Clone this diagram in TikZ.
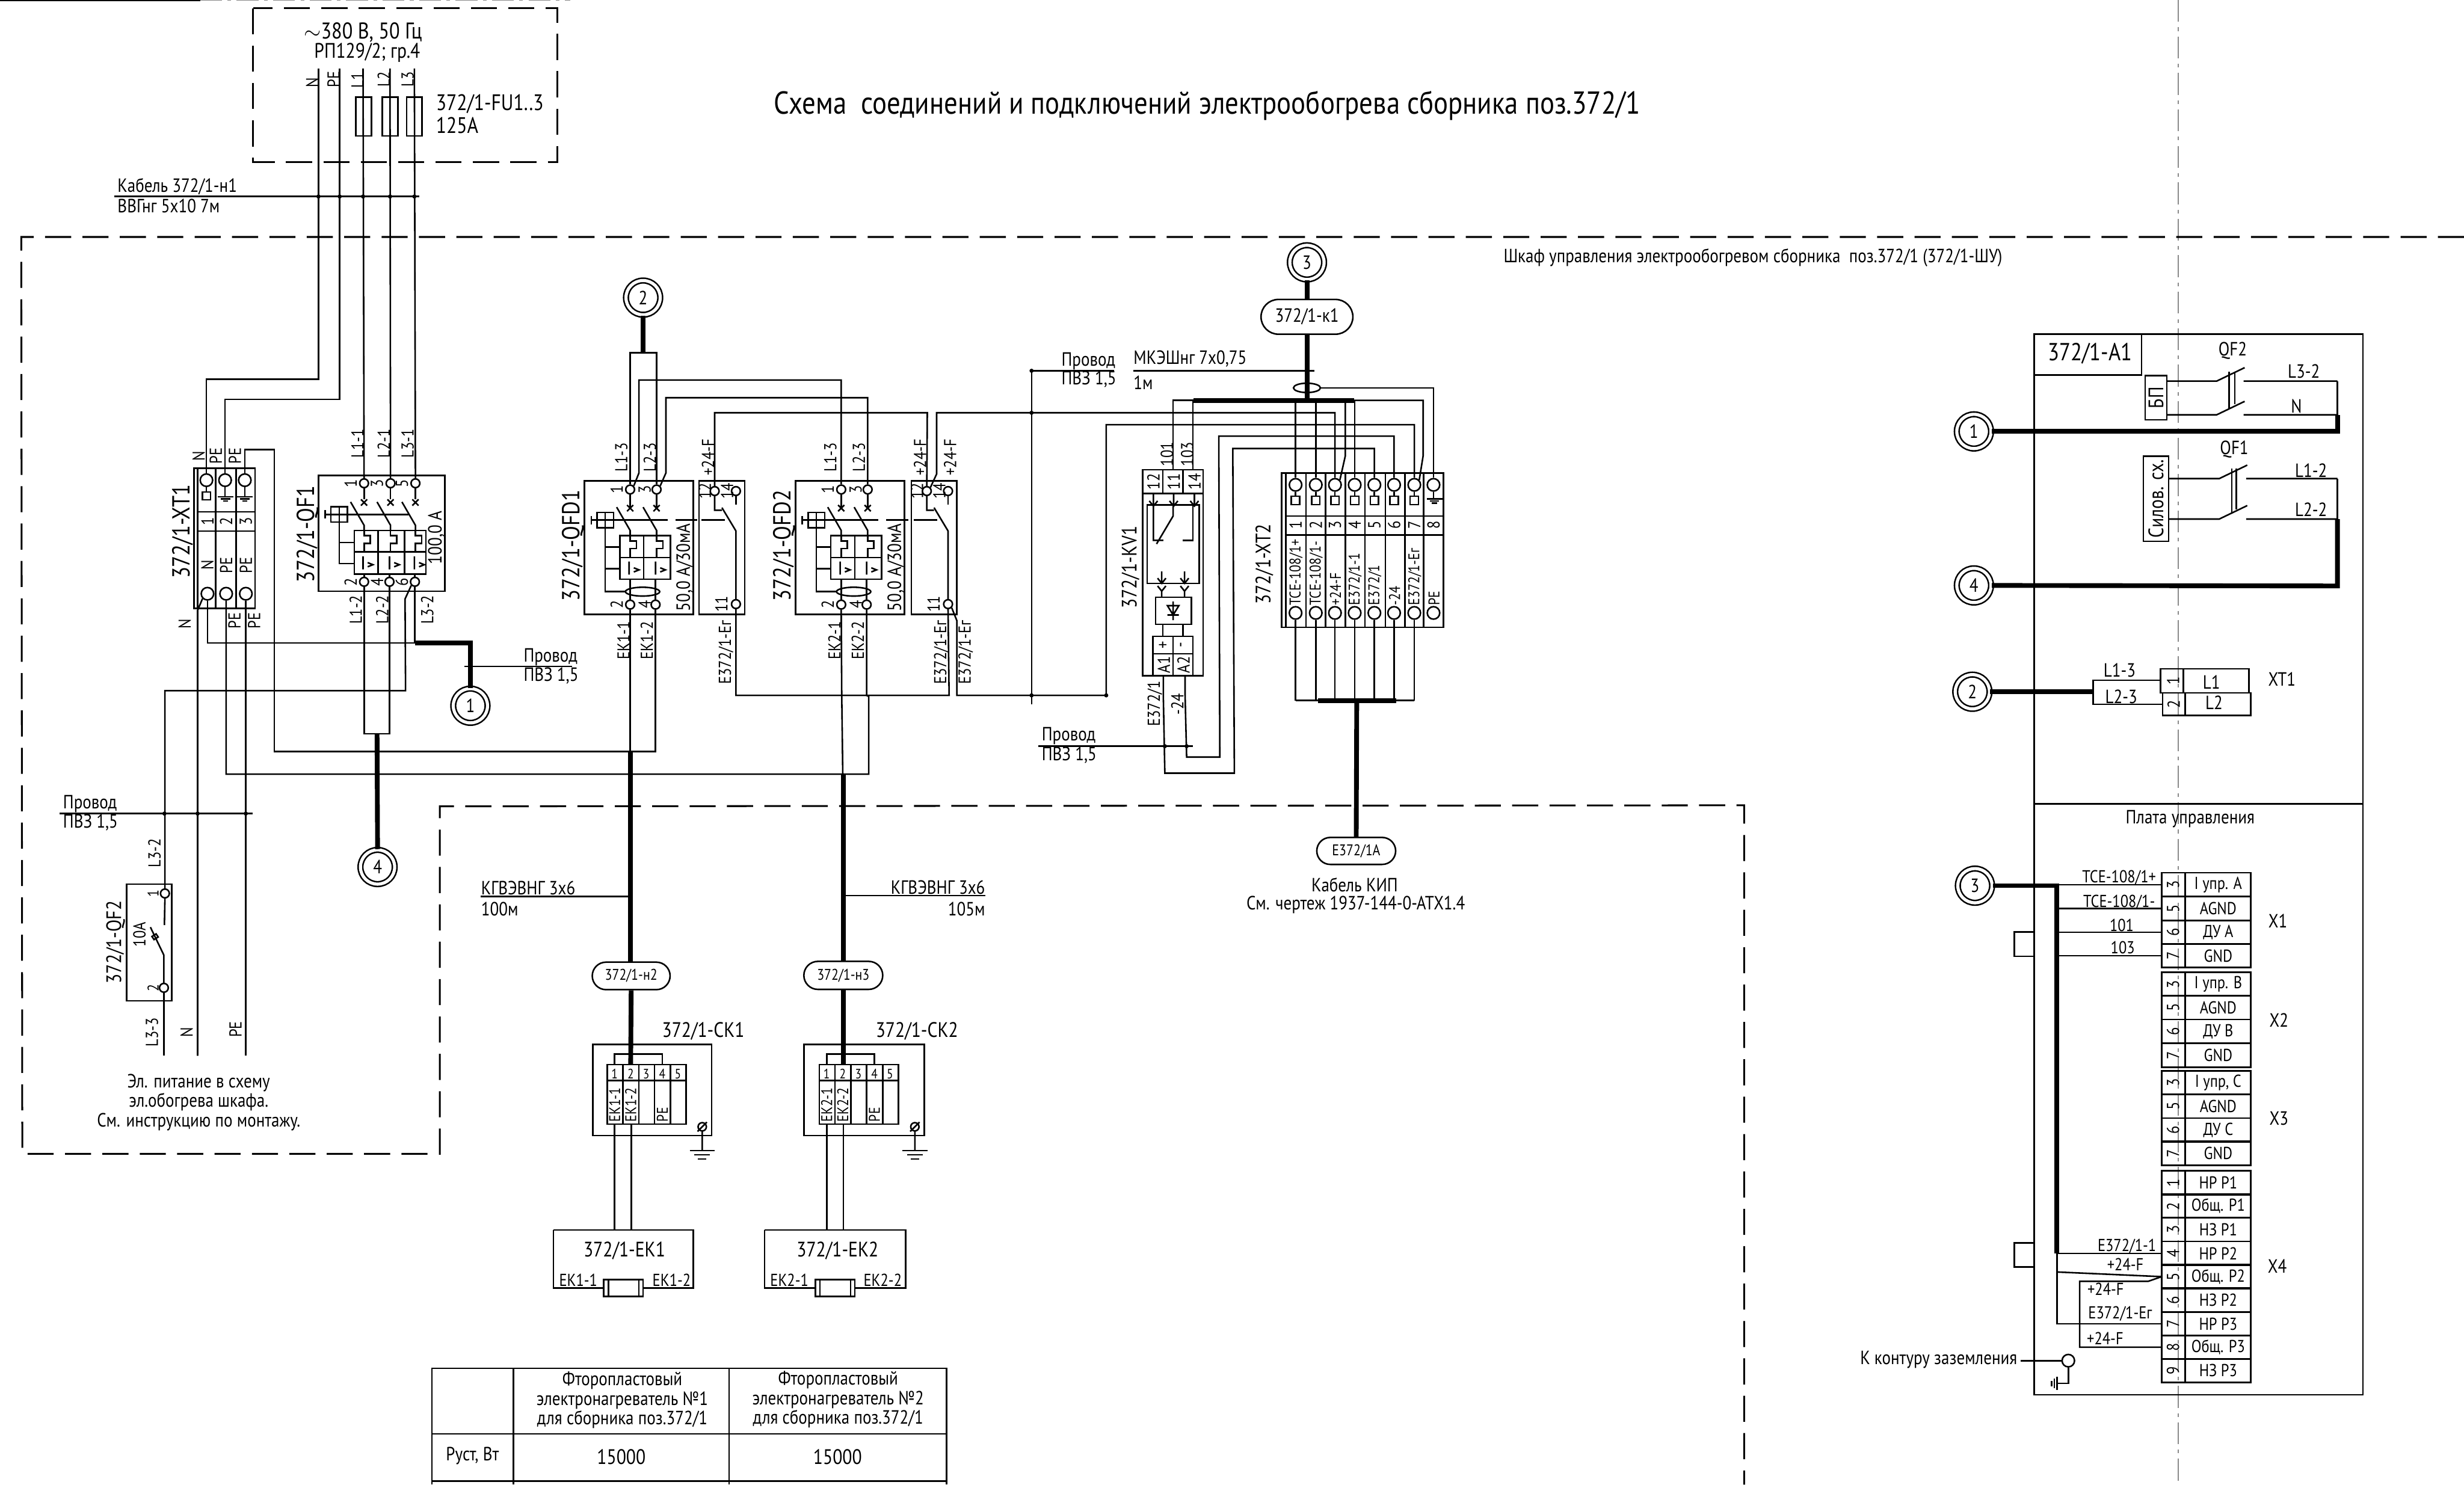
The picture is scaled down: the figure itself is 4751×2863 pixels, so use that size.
\documentclass[tikz,border=0pt]{standalone}
\usepackage{fontspec}
\setmainfont[FakeStretch=0.85]{PT Sans}
\usetikzlibrary{shapes.misc}
\definecolor{ink}{HTML}{000000}
\definecolor{faint}{HTML}{8A8A8A}
\tikzset{
  wire/.style={draw=ink, line width=0.85pt, line join=miter},
  bus/.style={draw=ink, line width=2.6pt},
  box/.style={draw=ink, line width=0.85pt},
  dsh/.style={draw=ink, line width=1pt, dash pattern=on 14.3pt off 6.2pt},
  fold/.style={draw=faint, line width=0.4pt, dash pattern=on 12pt off 3pt on 2pt off 3pt},
  term/.style={circle, draw=ink, fill=white, line width=0.85pt, inner sep=0pt, minimum size=0.17cm},
  termb/.style={term, minimum size=0.24cm},
  refc/.style={circle, draw=ink, fill=white, double, double distance=1.7pt, line width=0.85pt, inner sep=0pt, minimum size=0.66cm, text=ink, font=\fontsize{10.5}{11}\selectfont},
  cable/.style={rounded rectangle, draw=ink, fill=white, line width=0.85pt, inner sep=0pt},
  rot/.style={rotate=90},
  labs/.style={inner sep=0pt, text=ink, font=\fontsize{8.5}{9}\selectfont},
  lab/.style={inner sep=0pt, text=ink, font=\fontsize{9.5}{10}\selectfont},
  labm/.style={inner sep=0pt, text=ink, font=\fontsize{10.5}{10.7}\selectfont},
  labl/.style={inner sep=0pt, text=ink, font=\fontsize{11.5}{11.5}\selectfont},
  labb/.style={inner sep=0pt, text=ink, font=\fontsize{13.5}{14}\selectfont},
}
% small marks that repeat
\newcommand{\tk}[2]{\fill[ink] (#1,#2) circle (4);}
\newcommand{\crs}[2]{\draw[wire] (#1-6,#2-6) -- (#1+6,#2+6) (#1-6,#2+6) -- (#1+6,#2-6);}
\newcommand{\blade}[2]{\draw[wire] (#1-26,#2) -- (#1,#2+45) -- (#1,#2+55);}
\newcommand{\pole}[2]{
  \draw[wire] (#1,#2) -- (#1,#2+10) -- (#1+12,#2+10) -- (#1+12,#2+25) -- (#1,#2+25) -- (#1,#2+41);
  \draw[wire] (#1-2,#2+50) -- (#1-2,#2+75) (#1+7,#2+62) -- (#1+17,#2+66) -- (#1+7,#2+70);}
\newcommand{\lever}[2]{
  \draw[box] (#1-16,#2-15) rectangle (#1+16,#2+15);
  \draw[wire] (#1,#2-15) -- (#1,#2+15) (#1-27,#2-8) -- (#1-27,#2+8);}
\newcommand{\gndbars}[2]{
  \draw[wire] (#1-15,#2) -- (#1+15,#2) (#1-9,#2+4) -- (#1+9,#2+4) (#1-5,#2+8) -- (#1+5,#2+8);}
\newcommand{\gndck}[1]{
  \draw[wire] (#1,2173) circle (8) (#1-9,2182) -- (#1+9,2164) (#1,2181) -- (#1,2219);
  \draw[wire] (#1-24,2219) -- (#1+24,2219) (#1-15,2227) -- (#1+15,2227) (#1-8,2235) -- (#1+8,2235);}

\begin{document}
\begin{tikzpicture}[x=0.01cm,y=-0.01cm]
  \useasboundingbox (0,0) rectangle (4751,2863);
  \draw[line width=0.9pt] (0,1) -- (386,1);
  \draw[fold] (386,1) -- (1100,1);
  \draw[fold] (4200,0) -- (4200,2863);

  % titles
  \node[labb,font=\fontsize{17.4}{18}\selectfont] (title) at (2328,204) {Схема\ \ соединений и подключений электрообогрева сборника поз.372/1};
  \node[labm] (titleb) at (3380,497) {Шкаф управления электрообогревом сборника\ \ поз.372/1 (372/1-ШУ)};

  % frames
  \draw[dsh] (488,16) rectangle (1075,313);
  \draw[dsh] (4751,457) -- (41,457) -- (43,2225) -- (848,2225) -- (848,1555) -- (3363,1553) -- (3363,2863);

  % source
  \coordinate (srcN) at (614,132);
  \coordinate (srcPE) at (655,132);
  \coordinate (srcL1) at (700,132);
  \coordinate (srcL2) at (752,132);
  \coordinate (srcL3) at (799,132);
  \foreach \x in {686,737,784} \draw[box] (\x,187) rectangle (\x+30,262);
  \node[labl,font=\fontsize{12.5}{13}\selectfont] (src1) at (700,62) {$\sim$380 В, 50 Гц};
  \node[labl] (src2) at (708,102) {РП129/2; гр.4};
  \node[labl,font=\fontsize{12.3}{13}\selectfont,anchor=west] (fu1) at (840,201) {372/1-FU1..3};
  \node[labl,font=\fontsize{12.3}{13}\selectfont,anchor=west] (fu2) at (840,242) {125А};
  \draw[wire] (220,379) -- (809,379);
  \node[labm,anchor=west] (cb1) at (226,360) {Кабель 372/1-н1};
  \node[labm,anchor=west] (cb2) at (226,397) {ВВГнг 5х10 7м};

  % XT1
  \draw[box] (374,903) rectangle (492,1173);
  \draw[box] (381,903) -- (381,1173) (416,903) -- (416,1173) (455,903) -- (455,1173);
  \draw[box] (381,987) -- (492,987) (381,1024) -- (492,1024);
  \foreach \i/\xa/\xb/\txt in {1/398/400/N,2/434/436/PE,3/472/474/PE} {
    \node[termb] (xa\i) at (\xa,926) {};
    \node[termb] (xb\i) at (\xb,1145) {};
    \node[lab,rot] (xn\i) at (\xb,1005) {\i};
    \node[lab,rot] (xl\i) at (\xb,1090) {\txt};
  }
  \draw[box] (390,949) rectangle (406,964);
  \draw[wire] (xa1.south) -- (398,949) (xa2.south) -- (434,958) (xa3.south) -- (472,958);
  \gndbars{435}{958}
  \gndbars{472}{958}
  \node[labb,rot] (xt1) at (352,1025) {372/1-XT1};

  % QF1
  \draw[box] (614,917) rectangle (858,1140);
  \foreach \i/\xa/\xb/\nt/\nb in {1/702/702/1/2,2/753/751/3/4,3/801/800/5/6} {
    \node[term] (qa\i) at (\xa,932) {};
    \node[term] (qb\i) at (\xb,1122) {};
    \node[lab,rot] (qnt\i) at (\xa-26,932) {\nt};
    \node[lab,rot] (qnb\i) at (\xa-26,1122) {\nb};
    \draw[wire] (qa\i.south) -- (\xa,963);
    \crs{\xa}{969}
    \blade{\xa}{968}
    \pole{\xa}{1023}
  }
  \draw[box] (683,1023) rectangle (821,1107);
  \draw[box] (683,1064) -- (821,1064) (729,1023) -- (729,1107) (780,1023) -- (780,1107);
  \lever{654}{992}
  \draw[wire] (627,992) -- (788,992);
  \draw[wire] (654,1007) -- (654,1087) -- (683,1087) (654,1046) -- (683,1046);
  \draw[wire] (702,1107) -- (qb1.north) (751,1107) -- (qb2.north) (800,1107) -- (qb3.north);
  \node[labb,rot] (qf1) at (593,1030) {372/1-QF1};
  \node[labm,rot] (qf1v) at (841,1037) {100,0 А};

  % QF2
  \draw[box] (244,1705) rectangle (331,1930);
  \node[term] (qt) at (318,1723) {};
  \node[term] (qd) at (316,1905) {};
  \draw[wire] (qt.south) -- (317,1784);
  \draw[wire] (qd.north) -- (316,1842) -- (290,1788);
  \draw[wire] (293,1806) -- (301,1801) -- (305,1807) -- (297,1812) -- cycle;
  \node[labs,rot] (qtn) at (295,1723) {1};
  \node[labs,rot] (qdn) at (295,1905) {2};
  \node[labl,rot] (qf2) at (223,1817) {372/1-QF2};
  \node[lab,rot] (qf2v) at (269,1802) {10А};

  % feed wires
  \draw[wire] (srcN) -- (614,731) -| (xa1.north);
  \draw[wire] (srcPE) -- (655,770) -| (xa2.north);
  \draw[wire] (srcL1) -- (qa1.north);
  \draw[wire] (srcL2) -- (qa2.north);
  \draw[wire] (srcL3) -- (qa3.north);
  \draw[wire] (xb1.south west) -- (381,1177) -- (381,2036);
  \draw[wire] (xb3.south) -- (474,2036);
  \draw[wire] (qb1.south) -- (702,1415) -- (751,1415) -- (qb2.south);
  \draw[wire] (qb3.south west) -- (781,1155) -- (782,1332) -| (qt.north);
  \draw[wire] (qd.south) -- (316,2036);
  \draw[wire] (xb1.south) |- (800,1240);
  \draw[wire] (qb3.south) -- (800,1240);
  \node[refc] (c1) at (907,1361) {1};
  \node[refc] (c4) at (728,1672) {4};
  \draw[bus] (800,1240) -- (907,1240) -- (c1.north);
  \draw[bus] (727,1415) -- (c4.north);
  \draw[wire] (895,1285) -- (1103,1285);
  \node[labm,anchor=west] (pv1a) at (1009,1267) {Провод};
  \node[labm,anchor=west] (pv1b) at (1009,1303) {ПВЗ 1,5};
  \draw[wire] (115,1569) -- (487,1569);
  \node[labm,anchor=west] (pv2a) at (121,1550) {Провод};
  \node[labm,anchor=west] (pv2b) at (121,1586) {ПВЗ 1,5};
  \node[labm,align=center] (note) at (383,2126) {Эл. питание в схему\\эл.обогрева шкафа.\\См. инструкцию по монтажу.};

  % rotated wire labels
  \foreach \x/\y/\txt [count=\i] in {602/159/N,643/153/PE,689/155/L1,740/153/L2,786/153/L3,
    689/855/L1-1,740/855/L2-1,786/855/L3-1,383/880/N,416/879/PE,453/879/PE,
    356/1203/N,452/1197/PE,490/1197/PE,686/1176/L1-2,737/1176/L2-2,824/1176/L3-2,
    298/1645/L3-2,293/1991/L3-3,360/1991/N,454/1985/PE,
    1198/882/L1-3,1253/882/L2-3,1365/882/+24-F,1601/882/L1-3,1656/882/L2-3,1774/882/+24-F,1832/882/+24-F,
    1202/1235/EK1-1,1247/1235/EK1-2,1400/1258/{E372/1-Eг},1609/1235/EK2-1,1654/1235/EK2-2,1815/1258/{E372/1-Eг},1862/1258/{E372/1-Eг},
    2250/876/101,2289/876/103,2227/1357/{E372/1},2270/1358/-24}
    \node[lab,rot] (wl\i) at (\x,\y) {\txt};

  % QFD1, QFD2
  \foreach \nm/\xo/\xt in {QFD1/1127/{372/1-QFD1},QFD2/1534/{372/1-QFD2}} {
    \begin{scope}[shift={(\xo,927)}]
      \draw[box] (0,0) rectangle (210,258);
      \node[term] (\nm-t1) at (88,17) {};
      \node[term] (\nm-t2) at (139,17) {};
      \node[term] (\nm-b1) at (88,239) {};
      \node[term] (\nm-b2) at (137,239) {};
      \draw[wire] (\nm-t1.south) -- (88,53) (\nm-t2.south) -- (139,53);
      \crs{88}{53}
      \crs{139}{53}
      \blade{88}{51}
      \blade{139}{51}
      \draw[box] (68,106) rectangle (166,190);
      \draw[box] (68,148) -- (166,148) (114,106) -- (114,190);
      \pole{88}{106}
      \pole{139}{106}
      \lever{40}{76}
      \draw[wire] (12,76) -- (160,76) (175,76) -- (217,76);
      \draw[wire] (40,91) -- (40,214) -- (79,214) (40,128) -- (68,128) (40,170) -- (68,170);
      \draw[wire] (112,214) ellipse (33 and 8.5);
      \draw[wire] (88,190) -- (\nm-b1.north) (137,190) -- (\nm-b2.north);
      \node[lab,rot] (\nm-n1) at (62,17) {1};
      \node[lab,rot] (\nm-n3) at (116,17) {3};
      \node[lab,rot] (\nm-n2) at (62,239) {2};
      \node[lab,rot] (\nm-n4) at (116,239) {4};
      \node[labm,rot] (\nm-v) at (193,167) {50,0 А/30мА};
      \node[labb,rot] (\nm-t) at (-22,125) {\xt};
    \end{scope}
  }
  % contact blocks beside them
  \foreach \nm/\xo in {A1/1348,A2/1757} {
    \begin{scope}[shift={(\xo,927)}]
      \draw[box] (0,0) rectangle (88,258);
      \node[term] (\nm-t12) at (30,20) {};
      \node[term] (\nm-t14) at (71,20) {};
      \node[term] (\nm-t11) at (71,238) {};
      \draw[wire] (\nm-t12.south) -- (30,57) -- (44,57) (44,52) -- (71,97) -- (\nm-t11.north);
      \draw[wire] (\nm-t14.south) -- (71,46) (5,76) -- (50,76);
      \node[lab,rot] (\nm-n12) at (11,20) {12};
      \node[lab,rot] (\nm-n14) at (54,20) {14};
      \node[lab,rot] (\nm-n11) at (43,238) {11};
    \end{scope}
  }
  \node[refc] (c2) at (1240,574) {2};
  \draw[bus] (c2.south) -- (1240,680);
  \draw[wire] (QFD1-t1.north) |- (1240,680) -| (QFD1-t2.north);
  \draw[wire] (QFD2-t1.north) |- (1232,733) -- (1232,912) -- (QFD1-t1.north east);
  \draw[wire] (QFD2-t2.north) |- (1284,767) -- (1284,912) -- (QFD1-t2.north east);
  \draw[wire] (QFD1-b1.south) -- (1215,1449);
  \draw[wire] (QFD1-b2.south) |- (529,1449) -- (529,867) -| (xa3.north);
  \draw[wire] (QFD2-b1.south) -- (1623,1341) -- (1625,1493);
  \draw[wire] (QFD2-b2.south) -- (1671,1341) -- (1675,1343) |- (436,1493) -- (xb2.south);
  \draw[wire] (A1-t12.north) |- (1788,796) -- (A2-t12.north);
  \draw[wire] (A1-t11.south) |- (1830,1341) -- (A2-t11.south);

  % KV1
  \draw[box] (2203,906) rectangle (2320,1303);
  \draw[box] (2203,952) -- (2320,952) (2242,906) -- (2242,952) (2281,906) -- (2281,952);
  \draw[box] (2212,974) rectangle (2312,1125);
  \coordinate (kv11) at (2262,906);
  \coordinate (kv14) at (2300,906);
  \coordinate (kva1) at (2243,1303);
  \coordinate (kva2) at (2285,1303);
  \foreach \x/\txt [count=\i] in {2224/12,2263/11,2303/14} {
    \node[lab,rot] (kc\i) at (\x,929) {\txt};
    \draw[wire] (\x,952) -- (\x,976) (\x-8,966) -- (\x,976) -- (\x+8,966);
  }
  \draw[wire] (2224,976) -- (2224,1042) -- (2243,1042) (2262,976) -- (2262,995) -- (2230,1049);
  \draw[wire] (2300,976) -- (2300,1042) -- (2280,1042);
  \foreach \x in {2240,2284} {
    \draw[wire] (\x,1102) -- (\x,1125) (\x-8,1115) -- (\x,1125) -- (\x+8,1115);
    \draw[wire] (\x-8,1130) -- (\x,1140) -- (\x+8,1130) (\x,1140) -- (\x,1152);
  }
  \draw[box] (2228,1152) rectangle (2297,1204);
  \draw[wire] (2251,1168) -- (2273,1168) -- (2262,1186) -- cycle (2251,1186) -- (2273,1186) (2262,1160) -- (2262,1196);
  \draw[wire] (2242,1204) -- (2242,1227) (2281,1204) -- (2281,1227);
  \draw[box] (2223,1227) rectangle (2300,1303);
  \draw[box] (2223,1261) -- (2300,1261) (2262,1227) -- (2262,1303);
  \foreach \x/\y/\txt [count=\i] in {2244/1244/+,2281/1244/-,2244/1282/A1,2282/1282/A2}
    \node[lab,rot] (ka\i) at (\x,\y) {\txt};
  \node[labl,rot] (kv1) at (2180,1094) {372/1-KV1};

  % XT2
  \draw[box] (2471,912) rectangle (2783,1210);
  \draw[box] (2479,912) -- (2479,1210);
  \foreach \x in {2518,2556,2594,2632,2671,2709,2745} \draw[box] (\x,912) -- (\x,1210);
  \draw[box] (2479,995) -- (2783,995) (2479,1032) -- (2783,1032);
  \foreach \i/\x/\txt in {1/2498/{TCE-108/1+},2/2537/{TCE-108/1-},3/2574/+24-F,4/2612/{E372/1-1},
      5/2650/{E372/1},6/2688/-24,7/2727/{E372/1-Eг},8/2764/PE} {
    \node[termb] (T\i) at (\x,935) {};
    \node[termb] (B\i) at (\x,1182) {};
    \node[lab,rot] (Tn\i) at (\x,1012) {\i};
    \node[labs,rot,anchor=west] (Tl\i) at (\x+1,1168) {\txt};
  }
  \foreach \x [count=\i] in {2498,2537,2574,2612,2650,2688,2727} {
    \draw[box] (\x-8,957) rectangle (\x+8,973);
    \draw[wire] (T\i.south) -- (\x,957);
    \draw[wire] (B\i.south) -- (B\i.south |- 0,1351);
  }
  \draw[wire] (T8.south) -- (2764,962);
  \gndbars{2766}{962}
  \node[labl,rot] (xt2) at (2438,1088) {372/1-XT2};

  % cable 3
  \node[refc] (c3) at (2520,506) {3};
  \node[cable,labm,minimum width=1.77cm,minimum height=0.67cm] (k1) at (2520,611) {372/1-к1};
  \draw[bus] (c3.south) -- (k1.north);
  \draw[bus] (k1.south) -- (2520,772);
  \draw[wire] (2520,748) ellipse (26 and 9);
  \draw[bus] (2301,772) -- (2611,772);
  \draw[wire] (2611,772) -- (2744,772) -- (2744,879) -- (T7.north east);
  \draw[wire] (kv11) |- (2301,772);
  \draw[wire] (kv14) -- (2300,772);
  \draw[wire] (T1.north) |- (2520,772);
  \draw[wire] (T2.north) -- (2537,772);
  \draw[wire] (T4.north) -- (2612,772);
  \draw[wire] (T3.north east) -- (2594,879) -- (2594,772);
  \draw[wire] (T8.north) |- (2546,748);
  \draw[wire] (A2-t12.north east) -- (1806,914) -- (1806,796) -| (T3.north);
  \draw[wire] (A2-t11.south east) -- (1845,1197) -- (1845,1341) -- (2133,1341) -- (2133,819) -| (T7.north);
  \draw[wire] (2148,715) -- (1989,715) -- (1989,1358);
  \draw[wire] (1845,1341) -- (1989,1341);
  \draw[wire] (T6.north) |- (2350,841) -- (2352,1460) -- (2288,1460) -- (2285,1340) -- (kva2);
  \draw[wire] (T5.north) |- (2377,865) -- (2380,1491) -- (2246,1491) -- (2243,1340) -- (kva1);
  \draw[wire] (2185,715) -- (2534,715);
  \node[labm,anchor=west] (mk1) at (2185,692) {МКЭШнг 7х0,75};
  \node[labm,anchor=west] (mk2) at (2185,738) {1м};
  \node[labm,anchor=west] (pv3a) at (2046,696) {Провод};
  \node[labm,anchor=west] (pv3b) at (2046,731) {ПВЗ 1,5};
  \draw[wire] (2002,1439) -- (2300,1439);
  \node[labm,anchor=west] (pv4a) at (2008,1419) {Провод};
  \node[labm,anchor=west] (pv4b) at (2008,1456) {ПВЗ 1,5};
  \node[cable,labs,minimum width=1.52cm,minimum height=0.52cm] (kip) at (2615,1641) {E372/1A};
  \draw[wire] (2498,1351) -- (2727,1351);
  \draw[bus] (2541,1351) -- (2692,1351);
  \draw[bus] (2616,1351) -- (kip.north);
  \node[labm] (kip1) at (2612,1706) {Кабель КИП};
  \node[labm] (kip2) at (2614,1745) {См. чертеж 1937-144-0-АТХ1.4};

  % heater cables
  \draw[bus] (1216,1449) -- (1216,1855);
  \draw[bus] (1626,1493) -- (1626,1854);
  \node[cable,labs,minimum width=1.5cm,minimum height=0.53cm] (n2) at (1217,1882) {372/1-н2};
  \node[cable,labs,minimum width=1.52cm,minimum height=0.54cm] (n3) at (1626,1881) {372/1-н3};
  \draw[wire] (927,1729) -- (1216,1729);
  \draw[wire] (1626,1727) -- (1900,1727);
  \node[labm,anchor=west] (kg1) at (927,1713) {КГВЭВНГ 3х6};
  \node[labm,anchor=west] (kg2) at (927,1753) {100м};
  \node[labm,anchor=east] (kg3) at (1900,1711) {КГВЭВНГ 3х6};
  \node[labm,anchor=east] (kg4) at (1900,1753) {105м};

  % CK1, CK2 and heaters
  \foreach \nm/\xo/\wo/\xn/\xg/\xa/\xb/\xr/\exo/\ewo/\hh in {
      1/1143/229/1356/1354/1185/1217/1164/1067/270/1204,
      2/1550/232/1768/1764/1594/1626/1572/1474/272/1615} {
    \draw[box] (\xo,2014) rectangle (\xo+\wo,2190);
    \node[labl] (ck\nm) at (\xn,1989) {372/1-CK\nm};
    \draw[box] (\xa-14,2053) rectangle (\xa+138,2168);
    \draw[box] (\xa-14,2084) -- (\xa+138,2084);
    \foreach \d/\txt [count=\i] in {0/EK\nm-1,31/EK\nm-2,61/{},92/PE,122/{}} {
      \draw[box] (\xa+16+\d,2053) -- (\xa+16+\d,2168);
      \node[labs,font=\fontsize{7.5}{8}\selectfont] (cn\nm\i) at (\xa+\d,2071) {\i};
      \node[labs,rot,anchor=west] (ct\nm\i) at (\xa+\d,2164) {\txt};
    }
    \draw[wire] (\xa,2053) -- (\xa,2033) -- (\xa+92,2033) -- (\xa+92,2053);
    \gndck{\xg}
    \draw[wire] (\xa,2168) -- (\xa,2372) (\xb,2168) -- (\xb,2372);
    \draw[box] (\exo,2372) -- (\exo+\ewo,2372) -- (\exo+\ewo,2484) -- (\xr+76,2484);
    \draw[box] (\exo,2372) -- (\exo,2484) -- (\xr,2484);
    \draw[box] (\xr,2468) rectangle (\xr+76,2500);
    \draw[box] (\xr+9,2468) -- (\xr+9,2500) (\xr+68,2468) -- (\xr+68,2500);
    \node[labl] (ek\nm) at (\hh,2412) {372/1-EK\nm};
    \node[lab] (ekl\nm) at (\exo+48,2468) {EK\nm-1};
    \node[lab] (ekr\nm) at (\exo+228,2468) {EK\nm-2};
  }
  \draw[bus] (n2.south) -- (1216,2053);
  \draw[bus] (n3.south) -- (1626,2053);

  % table
  \draw[box] (833,2863) -- (833,2639) -- (1825,2639) -- (1825,2863);
  \draw[box] (990,2639) -- (990,2863) (1406,2639) -- (1406,2863);
  \draw[box] (833,2765) -- (1825,2765) (833,2856) -- (1825,2856);
  \node[labm,align=center] (th1) at (1200,2700) {Фторопластовый\\электронагреватель №1\\для сборника поз.372/1};
  \node[labm,align=center] (th2) at (1616,2699) {Фторопластовый\\электронагреватель №2\\для сборника поз.372/1};
  \node[labm] (tr0) at (911,2808) {Руст, Вт};
  \node[labl] (tr1) at (1198,2810) {15000};
  \node[labl] (tr2) at (1615,2810) {15000};

  % A1 panel
  \draw[box] (3922,644) rectangle (4556,2690);
  \draw[box] (3922,723) -- (4129,723) -- (4129,644);
  \draw[box] (3922,1550) -- (4556,1550);
  \node[labb] (a1) at (4030,682) {372/1-A1};
  \node[labm] (plata) at (4223,1579) {Плата управления};
  \node[refc] (r1) at (3806,832) {1};
  \node[refc] (r4) at (3806,1129) {4};
  \node[refc] (r2) at (3803,1334) {2};
  \node[refc] (r3) at (3808,1708) {3};
  \node[draw=ink,line width=0.85pt,labl,rot,minimum width=0.85cm,minimum height=0.42cm] (bp) at (4157,767) {БП};
  \node[draw=ink,line width=0.85pt,labl,rot,minimum width=1.64cm,minimum height=0.49cm] (silov) at (4157,962) {Силов. сх.};
  \foreach \y/\xa/\xb/\xc/\xe in {735/4178/4274/4328/4326,800/4178/4274/4328/4326,923/4181/4279/4333/4331,1001/4181/4279/4333/4331}
    \draw[wire] (\xa,\y) -- (\xb,\y) -- (\xc,\y-26) (\xe,\y) -- (4507,\y);
  \draw[wire] (4298,717) -- (4298,787) (4309,717) -- (4309,780);
  \draw[wire] (4303,904) -- (4303,989) (4312,904) -- (4312,982);
  \draw[wire] (4507,735) -- (4507,800) (4507,923) -- (4507,1001);
  \draw[bus] (r1.east) -- (4507,832) -- (4507,800);
  \draw[bus] (r4.east) -- (4507,1130) -- (4507,1001);
  \foreach \x/\y/\txt [count=\i] in {4305/676/QF2,4442/716/L3-2,4428/783/N,4308/867/QF1,4456/907/L1-2,4456/983/L2-2,4087/1293/L1-3,4090/1343/L2-3,4264/1316/L1,4269/1355/L2,4400/1310/XT1,4392/1776/X1,4394/1967/X2,4394/2157/X3,4391/2442/X4}
    \node[labm] (pl\i) at (\x,\y) {\txt};

  % XT1 of the panel
  \draw[box] (4166,1290) rectangle (4210,1336);
  \draw[box] (4210,1290) rectangle (4336,1336);
  \draw[box] (4170,1336) rectangle (4213,1380);
  \draw[box] (4213,1336) rectangle (4340,1380);
  \node[lab,rot] (pn1) at (4190,1313) {1};
  \node[lab,rot] (pn2) at (4191,1358) {2};
  \draw[bus] (r2.east) -- (4036,1334);
  \draw[wire] (4166,1312) -- (4036,1312) -- (4036,1358) -- (4170,1358);

  % control board
  \foreach \y/\n/\txt [count=\i] in {
      1706/3/{I упр. А},1752/5/AGND,1798/6/ДУ А,1843/7/GND,
      1898/3/{I упр. В},1943/5/AGND,1989/6/ДУ В,2035/7/GND,
      2088/3/{I упр, С},2133/5/AGND,2179/6/ДУ С,2224/7/GND,
      2281/1/НР Р1,2326/2/Общ. Р1,2371/3/НЗ Р1,2417/4/НР Р2,2462/5/Общ. Р2,2507/6/НЗ Р2,2553/7/НР Р3,2598/8/Общ. Р3,2643/9/НЗ Р3} {
    \draw[box] (4168,\y-23) rectangle (4213,\y+23);
    \draw[box] (4213,\y-23) rectangle (4340,\y+23);
    \coordinate (in\i) at (4168,\y);
    \node[lab,rot] (rn\i) at (4190,\y) {\n};
    \node[lab] (rt\i) at (4277,\y) {\txt};
  }
  \coordinate (bus3) at (3966,1708);
  \draw[bus] (r3.east) -- (bus3) -- (3966,2417);
  \draw[wire] (3966,2417) -- (3966,2553) -- (in19);
  \foreach \i in {1,2,3,4,16} \draw[wire] (bus3 |- in\i) -- (in\i);
  \draw[wire] (3966,2453) -- (in17);
  \draw[wire] (in17) -- (4142,2471) -- (4010,2471) -- (4010,2598) -- (in20);
  \draw[box] (3884,1797) rectangle (3922,1844);
  \draw[box] (3884,2397) rectangle (3922,2443);
  \foreach \x/\y/\txt [count=\i] in {4086/1693/{TCE-108/1+},4086/1740/{TCE-108/1-},4091/1784/101,4093/1827/103,4101/2404/{E372/1-1},4098/2438/+24-F,4060/2486/+24-F,4088/2534/{E372/1-Eг},4059/2581/+24-F}
    \node[lab] (bl\i) at (\x,\y) {\txt};
  \node[labm,anchor=west] (zem) at (3586,2622) {К контуру заземления};
  \node[termb] (zc) at (3988,2624) {};
  \draw[wire] (3896,2624) -- (zc.west);
  \draw[wire] (zc.south) -- (3988,2668) -- (3966,2668);
  \draw[wire] (3966,2655) -- (3966,2681) (3961,2659) -- (3961,2677) (3956,2663) -- (3956,2673);

  % wire marks
  \foreach \x/\y in {614/379,655/379,700/379,752/379,799/379,317/1569,381/1569,474/1569,907/1285,
      1216/1729,1626/1727,2520/715,1989/715,1989/796,1989/1341,2133/1341,2246/1439,2288/1439} {\tk{\x}{\y}}
\end{tikzpicture}
\end{document}
